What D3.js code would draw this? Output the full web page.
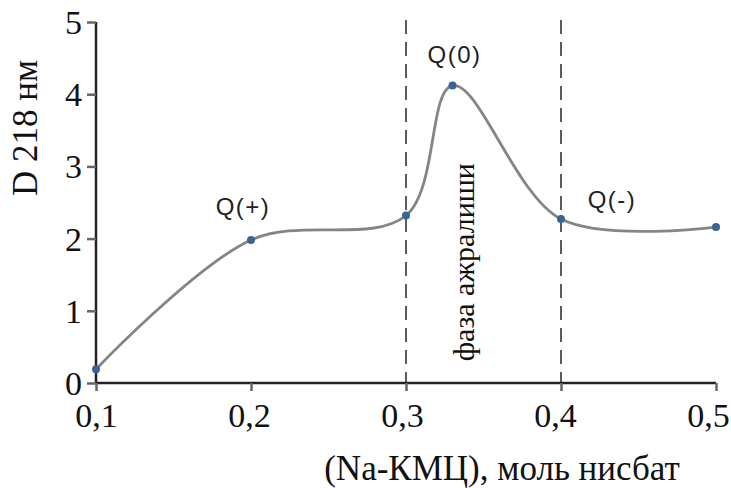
<!DOCTYPE html>
<html>
<head>
<meta charset="utf-8">
<script src="https://cdn.jsdelivr.net/npm/d3@7"></script>
<style>
  body { margin: 0; background: #fff; }
  svg { display: block; }
</style>
</head>
<body>
<svg width="731" height="488"></svg>
<script>
// data
var ratio = [0.1, 0.2, 0.3, 0.33, 0.4, 0.5];
var optD = [0.19, 1.98, 2.32, 4.12, 2.27, 2.16];
var xTicks = [0.1, 0.2, 0.3, 0.4, 0.5];
var yTicks = [0, 1, 2, 3, 4, 5];
var dashAt = [0.3, 0.4];
var notes = [
  {x: 0.2, y: 1.98, text: "Q(+)"},
  {x: 0.33, y: 4.12, text: "Q(0)"},
  {x: 0.4, y: 2.27, text: "Q(-)"}
];

var svg = d3.select("svg"),
    margin = {top: 22, right: 15, bottom: 105, left: 96},
    width = +svg.attr("width") - margin.left - margin.right,
    height = +svg.attr("height") - margin.top - margin.bottom,
    g = svg.append("g").attr("transform", "translate(" + margin.left + "," + margin.top + ")");

var serif = "'Liberation Serif', 'Times New Roman', serif";
var sans = "'Liberation Sans', Arial, sans-serif";

var x = d3.scaleLinear().domain([0.1, 0.5]).range([0, width]);
var y = d3.scaleLinear().domain([0, 5]).range([height, 0]);

var fmt = function(d) { return d3.format(".1f")(d).replace(".", ","); };

// dashed phase lines
g.selectAll(".phase")
  .data(dashAt)
  .enter().append("line")
  .attr("x1", function(d) { return x(d); })
  .attr("x2", function(d) { return x(d); })
  .attr("y1", -2)
  .attr("y2", height)
  .attr("stroke", "#333")
  .attr("stroke-width", 1.6)
  .attr("stroke-dasharray", "14,8");

// axes
var xAxis = d3.axisBottom(x).tickValues(xTicks).tickFormat(fmt).tickSize(8).tickPadding(12);
var yAxis = d3.axisLeft(y).tickValues(yTicks).tickFormat(d3.format("d")).tickSize(9).tickPadding(5);

var gx = g.append("g")
  .attr("transform", "translate(0," + height + ")")
  .call(xAxis)
  .attr("font-family", null).attr("font-size", null);
gx.select(".domain").attr("stroke", "#222").attr("stroke-width", 2.5).attr("d", "M0,0H" + width);
gx.selectAll(".tick line").attr("stroke", "#666").attr("stroke-width", 2.5);
gx.selectAll(".tick text")
  .style("font-family", serif).style("font-size", "34px").attr("fill", "#111")
  .attr("dx", function(d, i) { return -2 * i; }); // labels drift left a little, as in the original

var gy = g.append("g").call(yAxis)
  .attr("font-family", null).attr("font-size", null);
gy.select(".domain").attr("stroke", "#222").attr("stroke-width", 2.5).attr("d", "M0," + height + "V0");
gy.selectAll(".tick line").attr("stroke", "#666").attr("stroke-width", 2.5);
gy.selectAll(".tick text").style("font-family", serif).style("font-size", "34px").attr("fill", "#111").attr("dy", "0.34em");

// smoothed line
var line = d3.line()
  .x(function(d, i) { return x(ratio[i]); })
  .y(function(d) { return y(d); })
  .curve(d3.curveCatmullRom.alpha(0.5));

g.append("path")
  .datum(optD)
  .attr("d", line)
  .attr("fill", "none")
  .attr("stroke", "#858585")
  .attr("stroke-width", 2.8);

g.selectAll(".dot")
  .data(optD)
  .enter().append("circle")
  .attr("cx", function(d, i) { return x(ratio[i]); })
  .attr("cy", function(d) { return y(d); })
  .attr("r", 4)
  .attr("fill", "#3a6494");

// point labels
function note(n, dx, dy) {
  g.append("text")
    .attr("x", x(n.x) + dx)
    .attr("y", y(n.y) + dy)
    .attr("text-anchor", "middle")
    .style("font-family", sans)
    .style("font-size", "24px")
    .style("letter-spacing", "1.5px")
    .attr("fill", "#222")
    .text(n.text);
}
note(notes[0], -8, -25);
note(notes[1], 2, -23);
note(notes[2], 51, -11);

// phase label
g.append("text")
  .attr("transform", "translate(" + (x(0.33) + 21) + "," + (y(0.3)) + ") rotate(-90)")
  .style("font-family", serif)
  .style("font-size", "30px")
  .attr("fill", "#111")
  .text("фаза ажралиши");

// axis titles
svg.append("text")
  .attr("transform", "translate(37,128) rotate(-90)")
  .attr("text-anchor", "middle")
  .style("font-family", serif)
  .style("font-size", "35px")
  .attr("fill", "#111")
  .text("D 218 нм");

svg.append("text")
  .attr("x", 502)
  .attr("y", 480)
  .attr("text-anchor", "middle")
  .style("font-family", serif)
  .style("font-size", "35px")
  .attr("fill", "#111")
  .text("(Na-КМЦ), моль нисбат");
</script>
</body>
</html>
